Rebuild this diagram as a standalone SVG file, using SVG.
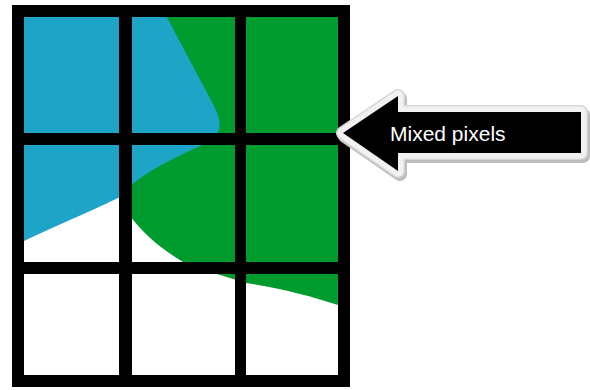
<svg xmlns="http://www.w3.org/2000/svg" width="590" height="390" viewBox="0 0 590 390">
  <style>
    .blue { fill: #1DA4C7; }
    .green { fill: #009B2F; }
    .bar { fill: #000000; }
    .label { font-family: "Liberation Sans", Arial, sans-serif; font-size: 21px; fill: #ffffff; }
  </style>
  <defs>
    <polygon id="arrowShape" points="343,133 398,96 398,112 581,112 581,153 398,153 398,171"/>
  </defs>
  <rect width="590" height="390" fill="#ffffff"/>
  <g id="raster">
    <rect x="18" y="11" width="326" height="370" fill="#ffffff"/>
    <path class="green" d="M160,17 H338 V305 C310,296 280,288 246,283 L217,274 C200,270 190,266 183,262 C160,248 145,235 130,216 L125,200 L125,120 Z"/>
    <path class="blue" d="M24,17 H167 C185,52 205,88 214,106 C222,122 221,131 213,140 C185,153 150,168 128,188 L120,197 C85,214 55,226 24,241 Z"/>
  </g>
  <g id="grid">
    <rect x="18" y="11" width="326" height="370" fill="none" stroke="#000" stroke-width="12"/>
    <rect class="bar" x="119" y="11" width="13" height="370"/>
    <rect class="bar" x="235" y="11" width="11" height="370"/>
    <rect class="bar" x="18" y="133" width="326" height="12"/>
    <rect class="bar" x="18" y="262" width="326" height="12"/>
  </g>
  <g id="callout">
    <use href="#arrowShape" transform="translate(2,3)" fill="#bdbdbd" stroke="#bdbdbd" stroke-width="14" stroke-linejoin="round"/>
    <use href="#arrowShape" fill="#d6d6d6" stroke="#d6d6d6" stroke-width="14" stroke-linejoin="round"/>
    <use href="#arrowShape" fill="#f1f1f1" stroke="#f1f1f1" stroke-width="11" stroke-linejoin="round"/>
    <use href="#arrowShape" fill="#000000"/>
    <text class="label" x="390" y="141">Mixed pixels</text>
  </g>
</svg>
